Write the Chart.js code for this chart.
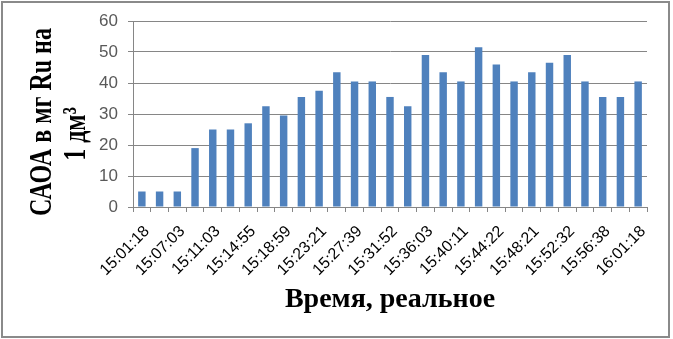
<!DOCTYPE html>
<html>
<head>
<meta charset="utf-8">
<script src="https://cdn.jsdelivr.net/npm/chart.js@4/dist/chart.umd.min.js"></script>
<style>
  html, body { margin: 0; padding: 0; background: #fff; }
  #wrap { position: relative; width: 673px; height: 339px; }
  #frame { position: absolute; left: 1px; top: 1px; width: 669px; height: 337px;
           box-sizing: border-box; border: 2px solid #8a8a8a; pointer-events: none; }
</style>
</head>
<body>
<div id="wrap">
  <canvas id="c" width="673" height="339"></canvas>
  <div id="frame"></div>
</div>
<script>
// visible tick labels (every other bar)
const timeLabels = ['15:01:18', '15:07:03', '15:11:03', '15:14:55', '15:18:59',
  '15:23:21', '15:27:39', '15:31:52', '15:36:03', '15:40:11', '15:44:22',
  '15:48:21', '15:52:32', '15:56:38', '16:01:18'];

// САОА, мг Ru на 1 дм3
const values = [5, 5, 5, 19, 25, 25, 27, 32.5, 29.5, 35.5, 37.5, 43.5, 40.5, 40.5,
  35.5, 32.5, 49, 43.5, 40.5, 51.5, 46, 40.5, 43.5, 46.5, 49, 40.5, 35.5, 35.5, 40.5];

const yTicks = [0, 10, 20, 30, 40, 50, 60];

const xTitle = 'Время, реальное';
const yTitle = ['САОА в мг Ru на', '1 дм³'];

// 29 bars, labels read only for every other one
const categories = values.map((v, i) => i % 2 === 0 ? timeLabels[i / 2] : '');

const gridCol = '#868686';

// y title drawn by hand: two rotated lines, a bit wider glyphs like the original
const yTitlePlugin = {
  id: 'yTitle',
  afterDraw(chart) {
    const ctx = chart.ctx;
    const spots = [[43, 122], [77, 134]];
    ctx.save();
    ctx.fillStyle = '#000';
    ctx.font = 'bold 24px "Liberation Serif"';
    ctx.textAlign = 'center';
    ctx.textBaseline = 'middle';
    yTitle.forEach((t, i) => {
      ctx.save();
      ctx.translate(spots[i][0], spots[i][1]);
      ctx.rotate(-Math.PI / 2);
      ctx.scale(1, 1.3);
      ctx.fillText(t, 0, 0);
      ctx.restore();
    });
    ctx.restore();
  }
};

new Chart(document.getElementById('c'), {
  type: 'bar',
  data: {
    labels: categories,
    datasets: [{
      data: values,
      backgroundColor: '#4f81bd',
      categoryPercentage: 1,
      barPercentage: 0.42
    }]
  },
  options: {
    responsive: false,
    animation: false,
    events: [],
    layout: { padding: { left: 22, top: 21, right: 26, bottom: 18 } },
    plugins: { legend: { display: false }, tooltip: { enabled: false } },
    scales: {
      x: {
        grid: { display: true, drawOnChartArea: false, drawTicks: true, tickLength: 5, color: gridCol, offset: true },
        border: { color: gridCol },
        ticks: {
          autoSkip: false, minRotation: 45, maxRotation: 45,
          padding: 10, labelOffset: 5,
          color: '#000', font: { family: 'Liberation Sans', size: 16 },
          callback: (v, i) => categories[i]
        },
        title: {
          display: true, text: xTitle, color: '#000',
          font: { family: 'Liberation Serif', size: 28, weight: 'bold' },
          padding: { top: 4, bottom: 4 }
        },
        afterFit: s => { s.height = 339 - 207 - 18; }
      },
      y: {
        min: 0, max: 60,
        afterBuildTicks: s => { s.ticks = yTicks.map(v => ({ value: v })); },
        grid: { color: gridCol, tickLength: 5 },
        border: { color: gridCol },
        ticks: { color: '#595959', padding: 10, font: { family: 'Liberation Sans', size: 17 } },
        afterFit: s => { s.width = 133 - 22; }
      }
    }
  },
  plugins: [yTitlePlugin]
});
</script>
</body>
</html>
